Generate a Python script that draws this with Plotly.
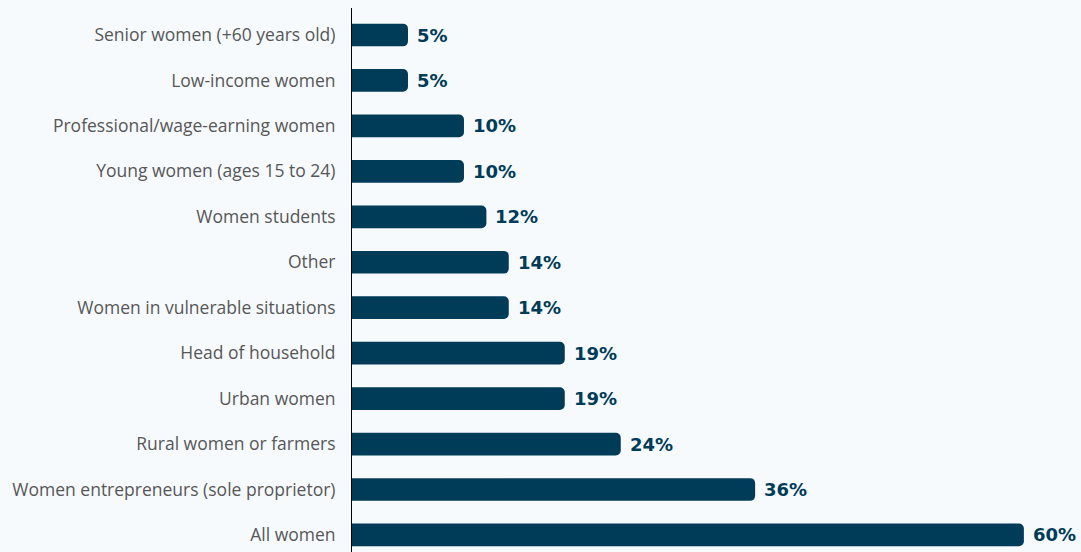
import plotly.graph_objects as go

categories = [
    "Senior women (+60 years old)",
    "Low-income women",
    "Professional/wage-earning women",
    "Young women (ages 15 to 24)",
    "Women students",
    "Other",
    "Women in vulnerable situations",
    "Head of household",
    "Urban women",
    "Rural women or farmers",
    "Women entrepreneurs (sole proprietor)",
    "All women",
]
values = [5, 5, 10, 10, 12, 14, 14, 19, 19, 24, 36, 60]

BAR = "#003b58"
BG = "#f6fafd"

fig = go.Figure()
fig.add_trace(go.Bar(
    x=values,
    y=categories,
    orientation="h",
    marker=dict(color=BAR, cornerradius=5, line=dict(width=0)),
    width=0.5,
    hoverinfo="skip",
))

for cat, v in zip(categories, values):
    fig.add_annotation(
        x=v, y=cat, text=f"{v}%", showarrow=False,
        xanchor="left", yanchor="middle", xshift=7,
        font=dict(family="DejaVu Sans", size=18, color=BAR, weight="bold"),
    )

fig.update_layout(
    width=1081, height=552,
    margin=dict(l=352, r=0, t=8, b=0),
    paper_bgcolor=BG, plot_bgcolor=BG,
    showlegend=False,
    xaxis=dict(range=[0, 65.1], visible=False, fixedrange=True),
    yaxis=dict(
        type="category",
        categoryorder="array", categoryarray=categories,
        range=[11.375, -0.594],
        showline=True, linecolor="#000000", linewidth=1,
        showgrid=False, zeroline=False, ticks="",
        ticklabelstandoff=12,
        tickfont=dict(family="Open Sans", size=17.5, color="#575757"),
    ),
)

fig.write_html("out.html")
